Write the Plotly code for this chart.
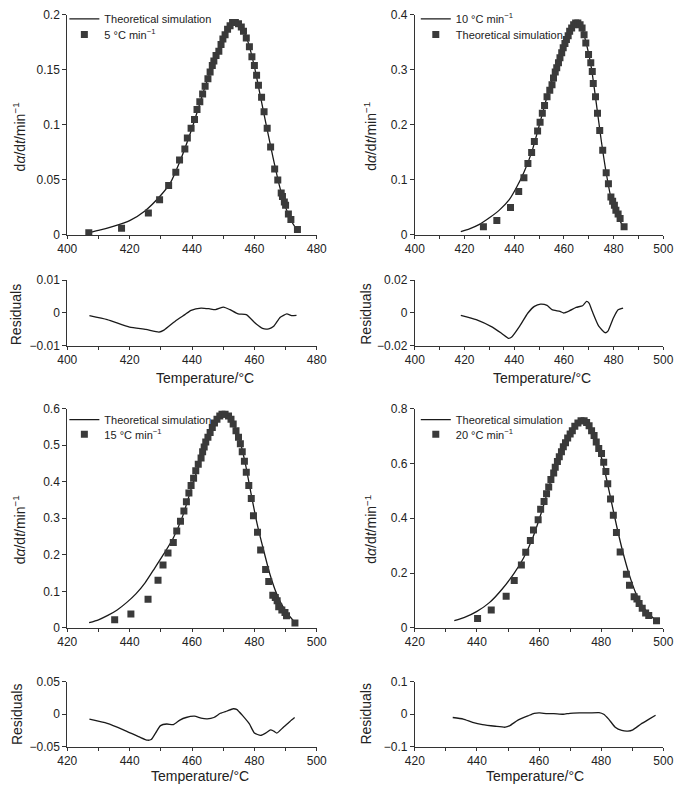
import plotly.graph_objects as go

# ---- 5 °C/min ----
t_exp_5 = [406.9, 417.4, 426.0, 429.6, 432.5, 434.8, 436.0, 437.7, 438.5, 439.7, 440.8, 441.6, 442.5,
           443.4, 444.2, 445.1, 445.8, 446.5, 447.0, 447.7, 448.6, 449.3, 449.9, 450.6, 451.4, 452.2,
           453.0, 453.9, 454.9, 455.8, 456.5, 457.4, 458.4, 459.2, 460.0, 460.7, 461.3, 462.3, 463.1,
           464.1, 465.2, 466.5, 467.5, 468.6, 469.0, 469.6, 470.0, 470.9, 471.7, 473.8]
r_exp_5 = [0.002, 0.006, 0.020, 0.032, 0.045, 0.057, 0.068, 0.078, 0.088, 0.097, 0.105, 0.114, 0.121,
           0.128, 0.135, 0.142, 0.148, 0.154, 0.158, 0.163, 0.167, 0.173, 0.178, 0.182, 0.187, 0.190,
           0.193, 0.193, 0.192, 0.189, 0.185, 0.179, 0.171, 0.162, 0.154, 0.145, 0.136, 0.125, 0.112,
           0.097, 0.080, 0.060, 0.050, 0.038, 0.035, 0.030, 0.027, 0.019, 0.014, 0.005]
t_sim_5 = [407, 410, 415, 420, 425, 430, 433, 436, 440, 444, 448, 451, 453, 454, 456, 458, 460, 462,
           464, 466, 468, 470, 472, 474]
r_sim_5 = [0.002, 0.004, 0.008, 0.013, 0.022, 0.036, 0.047, 0.066, 0.097, 0.133, 0.165, 0.185, 0.192,
           0.193, 0.188, 0.175, 0.153, 0.125, 0.097, 0.070, 0.045, 0.025, 0.012, 0.003]
t_res_5 = [407.1, 412.8, 420.0, 425.2, 429.4, 431.0, 434.6, 437.7, 439.7, 442.9, 445.4, 447.5, 450.1,
           452.2, 454.8, 457.4, 460.5, 462.6, 464.6, 466.2, 468.3, 470.4, 471.9, 473.5]
res_5 = [-0.0008, -0.002, -0.0043, -0.005, -0.0058, -0.0052, -0.0025, -0.0005, 0.0008, 0.0015, 0.0013,
         0.001, 0.0018, 0.001, -0.0003, -0.0005, -0.0033, -0.0047, -0.0048, -0.004, -0.0013, -0.0003,
         -0.0008, -0.0007]

# ---- 10 °C/min ----
t_exp_10 = [427.6, 433.0, 438.5, 441.8, 443.9, 445.5, 447.0, 448.1, 449.4, 450.4, 451.3, 452.2, 453.2,
            454.3, 455.2, 455.8, 456.5, 457.1, 457.8, 458.4, 459.1, 459.7, 460.4, 461.0, 461.7, 462.3,
            463.1, 463.9, 464.7, 465.6, 466.5, 467.3, 468.1, 468.8, 469.9, 470.8, 471.4, 471.8, 472.7,
            473.5, 474.4, 475.6, 477.0, 477.9, 478.9, 479.6, 480.3, 480.9, 481.8, 482.6, 484.2]
r_exp_10 = [0.015, 0.026, 0.050, 0.079, 0.104, 0.130, 0.150, 0.170, 0.189, 0.205, 0.221, 0.235, 0.251,
            0.263, 0.273, 0.285, 0.296, 0.304, 0.313, 0.322, 0.331, 0.340, 0.348, 0.355, 0.362, 0.370,
            0.376, 0.382, 0.385, 0.385, 0.382, 0.376, 0.364, 0.349, 0.328, 0.313, 0.297, 0.275, 0.251,
            0.221, 0.190, 0.154, 0.113, 0.093, 0.069, 0.061, 0.054, 0.045, 0.038, 0.030, 0.015]
t_sim_10 = [418.5, 422, 426, 430, 434, 438, 441, 444, 447, 450, 453, 456, 459, 462, 464, 465, 467, 469,
            471, 473, 475, 477, 479, 481, 483, 484]
r_sim_10 = [0.006, 0.011, 0.019, 0.031, 0.045, 0.064, 0.087, 0.115, 0.150, 0.198, 0.248, 0.292, 0.330,
            0.366, 0.382, 0.385, 0.378, 0.348, 0.305, 0.240, 0.172, 0.113, 0.066, 0.040, 0.022, 0.016]
t_res_10 = [418.5, 424.7, 431.2, 435.1, 437.7, 439.0, 442.2, 445.5, 448.1, 450.6, 453.2, 455.2, 458.4,
            459.9, 462.3, 464.9, 467.5, 469.1, 470.1, 471.4, 474.0, 476.6, 477.7, 479.9, 481.8, 483.8]
res_10 = [-0.0014, -0.004, -0.0086, -0.0126, -0.0154, -0.0146, -0.008, 0.0, 0.004, 0.0054, 0.0046, 0.002,
          0.001, 0.0, 0.0014, 0.0034, 0.0044, 0.007, 0.006, 0.001, -0.008, -0.012, -0.011, -0.003, 0.002,
          0.003]

# ---- 15 °C/min ----
t_exp_15 = [435.2, 440.4, 445.9, 449.1, 450.7, 452.3, 454.0, 455.1, 456.3, 457.4, 458.2, 459.0, 459.7,
            460.5, 461.2, 462.0, 462.9, 463.4, 463.9, 464.4, 465.1, 465.8, 466.5, 467.2, 468.0, 468.9,
            469.6, 470.6, 471.7, 472.5, 473.2, 474.1, 474.9, 475.5, 476.1, 476.8, 477.4, 478.2, 479.0,
            479.7, 481.0, 482.0, 483.6, 484.6, 485.9, 486.7, 487.3, 487.8, 488.8, 489.8, 490.3, 493.0]
r_exp_15 = [0.022, 0.038, 0.078, 0.130, 0.172, 0.205, 0.234, 0.265, 0.292, 0.320, 0.345, 0.369, 0.390,
            0.410, 0.430, 0.448, 0.465, 0.482, 0.495, 0.509, 0.522, 0.535, 0.549, 0.561, 0.571, 0.580,
            0.585, 0.585, 0.580, 0.571, 0.558, 0.540, 0.522, 0.504, 0.482, 0.456, 0.426, 0.390, 0.354,
            0.307, 0.262, 0.213, 0.160, 0.127, 0.089, 0.083, 0.074, 0.058, 0.049, 0.042, 0.033, 0.013]
t_sim_15 = [427, 430, 433, 436, 439, 442, 445, 448, 451, 454, 457, 460, 463, 466, 468, 470, 471, 473,
            475, 477, 479, 481, 483, 485, 487, 489, 491, 493]
r_sim_15 = [0.014, 0.022, 0.034, 0.049, 0.069, 0.093, 0.124, 0.163, 0.203, 0.246, 0.306, 0.388, 0.466,
            0.538, 0.572, 0.586, 0.586, 0.563, 0.522, 0.454, 0.364, 0.280, 0.211, 0.146, 0.096, 0.060,
            0.035, 0.015]
t_res_15 = [427.1, 432.8, 438.0, 443.1, 445.7, 446.9, 448.3, 449.9, 451.9, 454.0, 456.1, 458.1, 460.8,
            462.9, 464.9, 467.0, 469.1, 471.2, 473.2, 474.3, 476.3, 478.4, 480.0, 482.0, 483.6, 485.2,
            486.2, 487.2, 489.3, 491.4, 492.9]
res_15 = [-0.0075, -0.014, -0.024, -0.035, -0.040, -0.039, -0.029, -0.0175, -0.015, -0.016, -0.009,
          -0.005, -0.003, -0.006, -0.007, -0.005, 0.0015, 0.005, 0.0085, 0.0075, -0.0025, -0.015, -0.029,
          -0.0325, -0.029, -0.024, -0.026, -0.029, -0.020, -0.011, -0.005]

# ---- 20 °C/min ----
t_exp_20 = [440.2, 444.6, 449.4, 452.0, 454.3, 455.7, 457.2, 458.2, 459.7, 460.5, 461.6, 462.4, 463.1,
            463.8, 464.7, 465.2, 465.9, 466.5, 467.2, 467.8, 468.5, 469.2, 470.0, 470.7, 471.5, 472.5,
            473.5, 474.5, 475.3, 476.1, 476.9, 477.7, 478.4, 479.2, 480.1, 480.8, 481.5, 482.1, 483.0,
            483.9, 484.9, 486.1, 488.1, 489.1, 490.6, 491.5, 492.2, 493.2, 494.3, 495.3, 497.8]
r_exp_20 = [0.034, 0.065, 0.115, 0.173, 0.229, 0.276, 0.319, 0.357, 0.395, 0.433, 0.461, 0.490, 0.514,
            0.542, 0.565, 0.586, 0.607, 0.625, 0.643, 0.661, 0.676, 0.693, 0.708, 0.720, 0.736, 0.748,
            0.756, 0.756, 0.750, 0.738, 0.720, 0.702, 0.679, 0.655, 0.637, 0.605, 0.571, 0.526, 0.470,
            0.411, 0.348, 0.277, 0.196, 0.155, 0.113, 0.105, 0.089, 0.071, 0.054, 0.045, 0.026]
t_sim_20 = [432.7, 436, 440, 444, 448, 452, 455, 458, 461, 464, 467, 470, 472, 474, 475.5, 477, 479, 481,
            483, 485, 487, 489, 491, 493, 495, 497, 498]
r_sim_20 = [0.026, 0.038, 0.060, 0.092, 0.140, 0.200, 0.255, 0.330, 0.430, 0.545, 0.640, 0.710, 0.745,
            0.757, 0.752, 0.725, 0.665, 0.580, 0.475, 0.370, 0.275, 0.195, 0.130, 0.085, 0.055, 0.033,
            0.025]
t_res_20 = [432.2, 435.6, 438.6, 441.8, 445.9, 449.1, 450.6, 453.2, 456.4, 458.4, 460.2, 462.6, 464.7,
            467.8, 469.9, 473.0, 476.1, 479.3, 480.8, 482.4, 484.5, 486.6, 488.6, 490.2, 492.8, 495.4,
            497.5]
res_20 = [-0.010, -0.015, -0.025, -0.032, -0.037, -0.040, -0.035, -0.018, -0.005, 0.003, 0.004, 0.002,
          0.002, 0.0, 0.003, 0.004, 0.004, 0.005, 0.0, -0.015, -0.040, -0.050, -0.052, -0.048, -0.030,
          -0.015, -0.003]

W, H = 685, 791
FONT = "Liberation Sans, Arial, sans-serif"
INK = "#222222"

def px_x(a, b):
    return [a / W, b / W]

def px_y(top, bottom):
    return [1 - bottom / H, 1 - top / H]

# panel geometry (pixels)
cols = [(59, 316), (417, 673)]
rows_main = [(8, 232), (409, 632)]
rows_res = [(278, 345), (687, 753)]

panels = [
    dict(c=0, r=0, xr=[400, 480], ym=0.2, dm=0.05, rm=0.01,
         t=t_exp_5, y=r_exp_5, ts=t_sim_5, ys=r_sim_5, tr=t_res_5, rr=res_5,
         line_name="Theoretical simulation", mark_name="5 °C min<sup>−1</sup>"),
    dict(c=1, r=0, xr=[400, 500], ym=0.4, dm=0.1, rm=0.02,
         t=t_exp_10, y=r_exp_10, ts=t_sim_10, ys=r_sim_10, tr=t_res_10, rr=res_10,
         line_name="10 °C min<sup>−1</sup>", mark_name="Theoretical simulation"),
    dict(c=0, r=1, xr=[420, 500], ym=0.6, dm=0.1, rm=0.05,
         t=t_exp_15, y=r_exp_15, ts=t_sim_15, ys=r_sim_15, tr=t_res_15, rr=res_15,
         line_name="Theoretical simulation", mark_name="15 °C min<sup>−1</sup>"),
    dict(c=1, r=1, xr=[420, 500], ym=0.8, dm=0.2, rm=0.1,
         t=t_exp_20, y=r_exp_20, ts=t_sim_20, ys=r_sim_20, tr=t_res_20, rr=res_20,
         line_name="Theoretical simulation", mark_name="20 °C min<sup>−1</sup>"),
]

fig = go.Figure()
layout = {}
annotations = []

axis_common = dict(showline=True, linecolor="#333333", linewidth=1, ticks="outside", ticklen=4,
                   tickcolor="#333333", showgrid=False, zeroline=False,
                   tickfont=dict(family=FONT, size=12, color=INK))
minor_x = dict(dtick=10, ticks="outside", ticklen=3, tickcolor="#333333")


def ax(n):
    return "" if n == 1 else str(n)


def make_legend(x_px, y_px):
    return dict(x=x_px / W, y=1 - y_px / H, xanchor="left", yanchor="middle",
                bgcolor="rgba(0,0,0,0)", borderwidth=0,
                font=dict(family=FONT, size=11, color=INK), itemwidth=30)


# legend rows: (first-row y, second-row y) per panel row
leg_rows = [(12, 28), (420, 435)]
leg_x = [56, 418]

for i, p in enumerate(panels):
    n_main = 2 * i + 1
    n_res = 2 * i + 2
    leg_a = "legend" if i == 0 else f"legend{2 * i + 1}"
    leg_b = f"legend{2 * i + 2}"
    xd = px_x(*cols[p["c"]])
    main_dom = px_y(*rows_main[p["r"]])
    res_dom = px_y(*rows_res[p["r"]])

    # main axes
    layout[f"xaxis{ax(n_main)}"] = dict(axis_common, domain=xd, range=p["xr"], dtick=20, ticklen=3,
                                        anchor=f"y{ax(n_main)}", minor=minor_x)
    layout[f"yaxis{ax(n_main)}"] = dict(axis_common, domain=main_dom, range=[0, p["ym"]],
                                        dtick=p["dm"], anchor=f"x{ax(n_main)}")
    # residual axes
    layout[f"xaxis{n_res}"] = dict(axis_common, domain=xd, range=p["xr"], dtick=20, ticklen=3,
                                   anchor=f"y{n_res}", minor=minor_x)
    layout[f"yaxis{n_res}"] = dict(axis_common, domain=res_dom, range=[-p["rm"], p["rm"]],
                                   dtick=p["rm"], anchor=f"x{n_res}")

    fig.add_trace(go.Scatter(x=p["ts"], y=p["ys"], mode="lines", name=p["line_name"],
                             line=dict(color="#1a1a1a", width=1.3, shape="spline", smoothing=0.6),
                             xaxis=f"x{ax(n_main)}", yaxis=f"y{ax(n_main)}", legend=leg_a))
    fig.add_trace(go.Scatter(x=p["t"], y=p["y"], mode="markers", name=p["mark_name"],
                             marker=dict(symbol="square", size=7, color="#3a3a3a"),
                             xaxis=f"x{ax(n_main)}", yaxis=f"y{ax(n_main)}", legend=leg_b))
    fig.add_trace(go.Scatter(x=p["tr"], y=p["rr"], mode="lines", showlegend=False,
                             line=dict(color="#1a1a1a", width=1.3, shape="spline", smoothing=0.5),
                             xaxis=f"x{n_res}", yaxis=f"y{n_res}"))

    layout[leg_a] = make_legend(leg_x[p["c"]], leg_rows[p["r"]][0])
    layout[leg_b] = make_legend(leg_x[p["c"]], leg_rows[p["r"]][1])

# axis titles as annotations
ylab_x = [9, 371]
res_x = [7, 367]
xlab_x = [[201, 548], [196, 541]]
ylab_y = [132, 532]
res_y = [313, 720]
xlab_y = [378, 783]
for r in range(2):
    for c in range(2):
        annotations.append(dict(text="d<i>α</i>/d<i>t</i>/min<sup>−1</sup>", textangle=-90,
                                x=ylab_x[c] / W, y=1 - ylab_y[r] / H, xref="paper", yref="paper",
                                xanchor="center", yanchor="middle", showarrow=False, borderpad=0,
                                font=dict(family=FONT, size=14, color=INK)))
        annotations.append(dict(text="Residuals", textangle=-90,
                                x=res_x[c] / W, y=1 - res_y[r] / H, xref="paper", yref="paper",
                                xanchor="center", yanchor="middle", showarrow=False, borderpad=0,
                                font=dict(family=FONT, size=14, color=INK)))
        annotations.append(dict(text="Temperature/°C",
                                x=xlab_x[r][c] / W, y=1 - xlab_y[r] / H, xref="paper", yref="paper",
                                xanchor="center", yanchor="middle", showarrow=False, borderpad=0,
                                font=dict(family=FONT, size=14, color=INK)))

fig.update_layout(**layout)
fig.update_layout(width=W, height=H, margin=dict(l=0, r=0, t=0, b=0),
                  plot_bgcolor="white", paper_bgcolor="white",
                  annotations=annotations, font=dict(family=FONT, color=INK))

fig.write_html("out.html", config={"displayModeBar": False},
               post_script="document.body.style.margin='0';document.body.style.overflow='hidden';")
